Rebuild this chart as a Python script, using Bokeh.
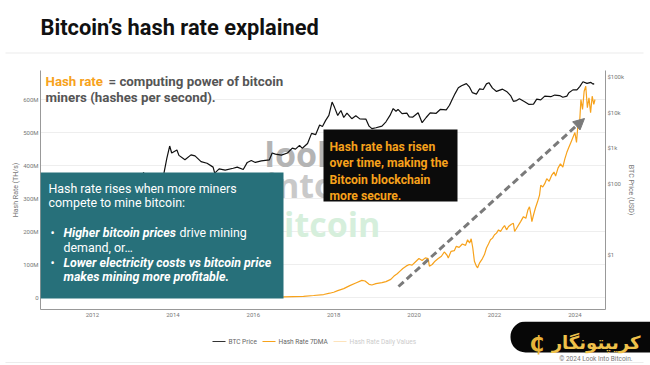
from bokeh.plotting import figure
from bokeh.layouts import column
from bokeh.models import (Range1d, LogScale, LogAxis, FixedTicker, Label, BoxAnnotation,
                          Arrow, NormalHead)
from bokeh.embed import file_html
from bokeh.resources import INLINE

# ---------------- data ----------------
btc_years = [2010.7, 2010.85, 2011.05, 2011.2, 2011.35, 2011.45, 2011.55, 2011.7, 2011.85, 2012.0,
             2012.3, 2012.6, 2012.9, 2013.1, 2013.27, 2013.32, 2013.5, 2013.75, 2013.85, 2013.92,
             2013.97, 2014.1, 2014.15, 2014.3, 2014.45, 2014.55, 2014.7, 2014.85, 2015.0, 2015.04,
             2015.15, 2015.3, 2015.5, 2015.6, 2015.75, 2015.85, 2015.95, 2016.05, 2016.2, 2016.4,
             2016.47, 2016.55, 2016.7, 2016.85, 2016.97, 2017.05, 2017.15, 2017.22, 2017.35, 2017.45,
             2017.55, 2017.65, 2017.72, 2017.8, 2017.88, 2017.96, 2018.02, 2018.1, 2018.18, 2018.25,
             2018.33, 2018.45, 2018.55, 2018.65, 2018.8, 2018.88, 2018.95, 2019.05, 2019.2, 2019.3,
             2019.4, 2019.48, 2019.55, 2019.6, 2019.7, 2019.82, 2019.88, 2019.97, 2020.1, 2020.2,
             2020.3, 2020.4, 2020.55, 2020.65, 2020.8, 2020.88, 2020.95, 2021.02, 2021.1, 2021.18,
             2021.3, 2021.38, 2021.45, 2021.55, 2021.63, 2021.72, 2021.8, 2021.86, 2021.95, 2022.05,
             2022.2, 2022.3, 2022.4, 2022.47, 2022.55, 2022.62, 2022.75, 2022.85, 2022.97, 2023.05,
             2023.15, 2023.25, 2023.4, 2023.5, 2023.62, 2023.7, 2023.8, 2023.85, 2023.95, 2024.05,
             2024.12, 2024.2, 2024.3, 2024.4, 2024.45, 2024.48]
btc_price = [0.07, 0.2, 0.4, 1, 8, 28, 14, 5, 3, 5,
             5, 11, 13, 30, 200, 90, 95, 130, 500, 1100,
             700, 850, 600, 450, 620, 580, 400, 360, 280, 190,
             250, 230, 260, 280, 240, 380, 430, 380, 420, 450,
             700, 650, 610, 700, 960, 900, 1150, 950, 1300, 2500,
             2300, 4300, 3900, 5800, 8000, 19000, 13500, 8000, 11000, 7000,
             9300, 6500, 7800, 6400, 6300, 4000, 3400, 3600, 4000, 5300,
             8000, 12500, 10500, 11800, 9000, 9300, 7300, 7200, 9500, 5000,
             7000, 9500, 9200, 11800, 11500, 15500, 23000, 33000, 48000, 55000,
             63000, 50000, 35000, 32000, 45000, 43000, 62000, 67000, 47000, 38000,
             44000, 38000, 29000, 20000, 21000, 23500, 19500, 16500, 16600, 23000,
             22000, 28000, 27000, 30000, 29000, 26000, 28000, 35000, 42000, 42000,
             52000, 71000, 64000, 68000, 61000, 63000]

# hash rate 7-day moving average, in millions of TH/s
hash_years = [2010.7, 2012.0, 2014.0, 2015.0, 2016.0, 2016.5, 2016.75, 2017.0, 2017.25, 2017.5,
              2017.75, 2017.9, 2018.0, 2018.1, 2018.25, 2018.4, 2018.55, 2018.7, 2018.78, 2018.88,
              2018.95, 2019.05, 2019.2, 2019.3, 2019.42, 2019.5, 2019.58, 2019.65, 2019.72, 2019.8,
              2019.88, 2019.95, 2020.05, 2020.12, 2020.2, 2020.28, 2020.35, 2020.38, 2020.45, 2020.52,
              2020.6, 2020.68, 2020.75, 2020.82, 2020.85, 2020.92, 2021.0, 2021.05, 2021.12, 2021.2,
              2021.28, 2021.33, 2021.38, 2021.42, 2021.46, 2021.5, 2021.55, 2021.58, 2021.63, 2021.7,
              2021.75, 2021.8, 2021.85, 2021.9, 2021.95, 2022.0, 2022.05, 2022.1, 2022.15, 2022.2,
              2022.25, 2022.3, 2022.35, 2022.42, 2022.47, 2022.5, 2022.55, 2022.6, 2022.65, 2022.72,
              2022.78, 2022.83, 2022.87, 2022.9, 2022.93, 2022.97, 2023.02, 2023.07, 2023.12, 2023.15,
              2023.2, 2023.25, 2023.3, 2023.36, 2023.42, 2023.48, 2023.52, 2023.58, 2023.64, 2023.7,
              2023.75, 2023.8, 2023.85, 2023.9, 2023.95, 2024.0, 2024.04, 2024.08, 2024.11, 2024.15,
              2024.19, 2024.23, 2024.27, 2024.31, 2024.35, 2024.39, 2024.43, 2024.47, 2024.5]
hash_7dma = [0, 0.02, 0.1, 0.35, 0.8, 1.5, 2, 2.8, 3.5, 6,
             9, 13, 16, 21, 27, 36, 44, 52, 50, 40,
             38, 42, 45, 48, 55, 65, 72, 80, 88, 95,
             100, 98, 110, 118, 112, 120, 118, 95, 100, 110,
             118, 125, 138, 128, 120, 140, 142, 155, 152, 162,
             158, 175, 165, 178, 150, 110, 95, 90, 105, 118,
             130, 150, 162, 175, 180, 190, 195, 205, 200, 210,
             218, 205, 215, 222, 225, 200, 210, 220, 230, 245,
             240, 265, 275, 255, 230, 250, 272, 290, 310, 340,
             335, 345, 360, 352, 370, 380, 368, 392, 405, 395,
             420, 440, 455, 470, 485, 500, 470, 530, 515, 600,
             570, 625, 640, 575, 605, 560, 610, 585, 600]

hash_ticks = [0, 100, 200, 300, 400, 500, 600]
hash_tick_labels = ["0", "100M", "200M", "300M", "400M", "500M", "600M"]
price_ticks = [1, 100, 1000, 10000, 100000]
price_tick_labels = ["$1", "$100", "$1k", "$10k", "$100k"]
year_ticks = [2012, 2014, 2016, 2018, 2020, 2022, 2024]
legend_labels = ["BTC Price", "Hash Rate 7DMA", "Hash Rate Daily Values"]

# ---------------- page geometry (picture pixels) ----------------
W, H = 650, 365
TOP_H = 54                # title strip
BOT_Y = 321               # bottom strip starts here
FL, FR, FT, FB = 40, 605, 70, 309        # plot frame edges
def X(ix):
    return 2012 + (ix - 92) / 40.2
def Y(iy):
    return (297 - iy) / 0.33
PX_DECADE = 35.5

ORANGE = "#f7a21b"
TEAL = "#27707a"
FONT = "Roboto"

def lab(fig, xx, yy, txt, size, color, style="normal", font=FONT, align="left",
        level="annotation", baseline="alphabetic"):
    fig.add_layout(Label(x=xx, y=yy, text=txt, text_font=font, text_font_style=style,
                         text_font_size=size, text_color=color, text_baseline=baseline,
                         text_align=align, level=level))

def strip(y0, y1):
    f = figure(width=W, height=y1 - y0, x_range=Range1d(0, W), y_range=Range1d(y1, y0),
               output_backend="svg", toolbar_location=None, frame_align=False,
               min_border=0, min_border_left=0, min_border_right=0, min_border_top=0,
               min_border_bottom=0, x_axis_location=None, y_axis_location=None,
               outline_line_color=None, background_fill_color="white", border_fill_color="white")
    f.title = None
    f.grid.visible = False
    return f

# ---------------- title strip ----------------
top = strip(0, TOP_H)
lab(top, 40, 27, "Bitcoin\u2019s hash rate explained", "21.8px", "#111111", "bold")
top.add_layout(BoxAnnotation(left=5, right=643, top=52, bottom=53, fill_color="#ececec",
                             fill_alpha=1, line_color=None))

# ---------------- main chart ----------------
MH = BOT_Y - TOP_H
p = figure(width=W, height=MH, x_range=Range1d(X(FL), X(FR)), y_range=Range1d(Y(FB), Y(FT)),
           output_backend="svg", toolbar_location=None, frame_align=False,
           min_border_left=FL, min_border_right=W - FR, min_border_top=FT - TOP_H,
           min_border_bottom=BOT_Y - FB,
           background_fill_color="white", border_fill_color="white", outline_line_color=None)
p.title = None
p.extra_y_ranges = {"price": Range1d(10 ** (5 - (FB - 76) / PX_DECADE), 10 ** (5 + (76 - FT) / PX_DECADE))}
p.extra_y_scales = {"price": LogScale()}

def style_axis(ax):
    ax.axis_line_color = "#999999"
    ax.major_tick_line_color = None
    ax.minor_tick_line_color = None
    ax.major_tick_out = 0
    ax.major_tick_in = 0
    ax.minor_tick_out = 0
    ax.minor_tick_in = 0
    ax.major_label_text_font = FONT
    ax.major_label_text_font_size = "6px"
    ax.major_label_text_color = "#777777"
    ax.major_label_standoff = 3
    ax.axis_label_text_font = FONT
    ax.axis_label_text_font_size = "7px"
    ax.axis_label_text_font_style = "normal"
    ax.axis_label_text_color = "#777777"
    ax.axis_label_standoff = 0

left = p.yaxis[0]
style_axis(left)
left.ticker = FixedTicker(ticks=hash_ticks)
left.major_label_overrides = {t: l for t, l in zip(hash_ticks, hash_tick_labels)}
left.axis_label = "Hash Rate (TH/s)"
left.major_label_standoff = 2

bottom = p.xaxis[0]
style_axis(bottom)
bottom.ticker = FixedTicker(ticks=year_ticks)
bottom.major_label_overrides = {t: str(t) for t in year_ticks}
bottom.major_label_standoff = 3

right = LogAxis(y_range_name="price")
style_axis(right)
right.ticker = FixedTicker(ticks=price_ticks)
right.major_label_overrides = {t: l for t, l in zip(price_ticks, price_tick_labels)}
right.axis_label = "BTC Price (USD)"
right.major_label_standoff = 2
p.add_layout(right, "right")

p.xgrid.grid_line_color = None
p.ygrid.grid_line_color = "#eeeeee"

def mlab(txt, ix, iy, size, color, style="normal", font=FONT, level="annotation"):
    lab(p, X(ix), Y(iy), txt, size, color, style, font, level=level)

# watermark
for txt, ix, iy, col in [("look", 264, 153, "#b4b4b4"), ("into", 266, 184, "#c9c9c9"),
                         ("bitcoin", 262, 223, "#d6efdc")]:
    mlab(txt, ix, iy, "34px", col, "bold", font="Open Sans", level="underlay")

# series
p.line(btc_years, btc_price, y_range_name="price", line_color="#111111", line_width=1.2)
p.line(hash_years, hash_7dma, line_color=ORANGE, line_width=1.2)

# boxes
p.add_layout(BoxAnnotation(left=X(FL), right=X(283), top=Y(172), bottom=Y(298),
                           fill_color=TEAL, fill_alpha=1, line_color=None))
p.add_layout(BoxAnnotation(left=X(323), right=X(457), top=Y(129), bottom=Y(201),
                           fill_color="#0b0b0b", fill_alpha=1, line_color=None))

# top-left annotation
mlab("Hash rate", 45, 81, "13.3px", ORANGE, "bold")
mlab("= computing power of bitcoin", 108, 81, "13.3px", "#555555", "bold")
mlab("miners (hashes per second).", 45, 97, "13.3px", "#555555", "bold")

# teal box text
WHITE = "#ffffff"
TS = "12.4px"
mlab("Hash rate rises when more miners", 48, 188, TS, WHITE)
mlab("compete to mine bitcoin:", 48, 202, TS, WHITE)
mlab("\u2022", 50, 232, TS, WHITE)
mlab("Higher bitcoin prices", 63, 232, TS, WHITE, "bold italic")
mlab("drive mining", 179, 232, TS, WHITE)
mlab("demand, or\u2026", 63, 247, TS, WHITE)
mlab("\u2022", 50, 262, TS, WHITE)
mlab("Lower electricity costs vs bitcoin price", 63, 262, TS, WHITE, "bold italic")
mlab("makes mining more profitable.", 63, 276, TS, WHITE, "bold italic")

# black box text
for i, t in enumerate(["Hash rate has risen", "over time, making the", "Bitcoin blockchain", "more secure."]):
    mlab(t, 329, 146 + i * 16.6, "12.2px", ORANGE, "bold")

# dashed arrow
p.add_layout(Arrow(x_start=X(398), y_start=Y(286), x_end=X(584), y_end=Y(118),
                   line_color="#7a7a7a", line_width=3, line_dash="7 4",
                   end=NormalHead(size=11, fill_color="#7a7a7a", line_color="#7a7a7a")))

# ---------------- bottom strip: legend, badge, credits ----------------
bot = strip(BOT_Y, H)
legend_colors = ["#333333", ORANGE, "#fde3bb"]
legend_text_colors = ["#666666", "#666666", "#cccccc"]
legend_x = [212, 262, 333]
for name, lc, tc, lx in zip(legend_labels, legend_colors, legend_text_colors, legend_x):
    bot.add_layout(BoxAnnotation(left=lx, right=lx + 13, top=340.4, bottom=341.6, fill_color=lc,
                                 fill_alpha=1, line_color=None))
    lab(bot, lx + 16, 341, name, "6.5px", tc, baseline="middle")

lab(bot, 632, 358, "\u00a9 2024 Look Into Bitcoin.", "6.5px", "#777777", align="right")
bot.add_layout(BoxAnnotation(left=5, right=643, top=361.5, bottom=362.5, fill_color="#ececec",
                             fill_alpha=1, line_color=None))

bot.add_layout(BoxAnnotation(left=510, right=665, top=BOT_Y, bottom=352, fill_color="#070707",
                             fill_alpha=1, line_color=None, border_radius=15))
lab(bot, 529, 343, "\u20b5", "21px", "#e8b43a", "bold", font="DejaVu Sans")
lab(bot, 640, 342, "\u06a9\u0631\u06cc\u067e\u062a\u0648\u0646\u06af\u0627\u0631", "18px", "#efc14a",
    "bold", font="DejaVu Sans", align="right")

open("out.html", "w").write(file_html(column(top, p, bot, spacing=0), INLINE))
